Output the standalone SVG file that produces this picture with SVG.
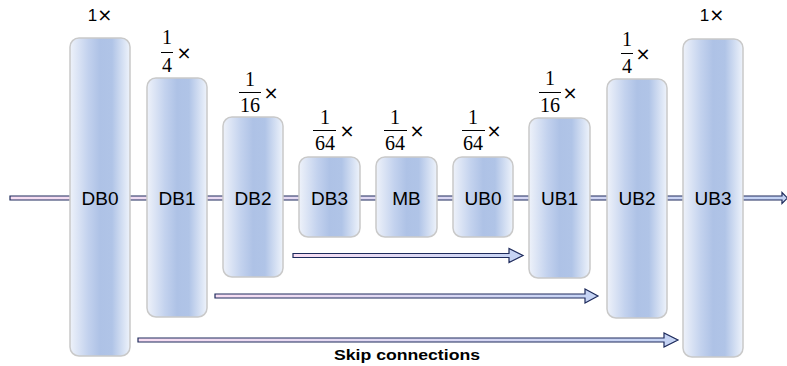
<svg xmlns="http://www.w3.org/2000/svg" width="787" height="366" viewBox="0 0 787 366">
<defs>
<linearGradient id="boxg" x1="0" y1="0" x2="1" y2="0">
<stop offset="0" stop-color="#eef2fa"/>
<stop offset="0.3" stop-color="#c3d2ee"/>
<stop offset="0.5" stop-color="#aec2e6"/>
<stop offset="0.7" stop-color="#b0c4e7"/>
<stop offset="1" stop-color="#eef3fb"/>
</linearGradient>
<linearGradient id="arrg" x1="0" y1="0" x2="1" y2="0">
<stop offset="0" stop-color="#f8def2"/>
<stop offset="1" stop-color="#c4d3f4"/>
</linearGradient>
<style>
.box{fill:url(#boxg);stroke:#c9c9c9;stroke-width:1.5}
.arr{fill:url(#arrg);stroke:#1e2b5c;stroke-width:1.2;stroke-linejoin:miter}
.lbl{font-family:"Liberation Sans",Arial,sans-serif;font-size:19px;fill:#000;text-anchor:middle}
.sc{font-family:"Liberation Sans",Arial,sans-serif;font-size:17px;fill:#000;text-anchor:middle}
.fr{font-family:"Liberation Serif","DejaVu Serif",serif;font-size:20px;fill:#000;text-anchor:middle}
.x{font-family:"DejaVu Sans",sans-serif;font-size:18px;fill:#000;text-anchor:middle}
.xs{font-family:"DejaVu Sans",sans-serif;font-size:18px}
.bar{stroke:#000;stroke-width:1}
.cap{font-family:"Liberation Sans",Arial,sans-serif;font-size:15px;font-weight:bold;fill:#000;text-anchor:middle}
</style>
</defs>
<g id="connectors">
<path class="arr" d="M10,196 H782 V192.5 L787.5,198 L782,203.5 V200 H10 Z"/>
<path class="arr" d="M293,253.5 H509 V248.5 L523,255.5 L509,262.5 V257.5 H293 Z"/>
<path class="arr" d="M215,294 H585 V289 L598,296 L585,303 V298 H215 Z"/>
<path class="arr" d="M138,338 H664 V333 L678,340 L664,347 V342 H138 Z"/>
</g>
<g id="DB0"><rect class="box" x="70" y="38" width="60" height="318" rx="9"/><text class="lbl" x="100" y="205">DB0</text><text class="sc" x="100" y="21">1<tspan class="xs">×</tspan></text></g>
<g id="DB1"><rect class="box" x="147" y="78" width="60" height="239" rx="9"/><text class="lbl" x="177" y="205">DB1</text>
<text class="fr" x="167" y="44">1</text><line class="bar" x1="161" y1="52.5" x2="173" y2="52.5"/><text class="fr" x="167" y="72">4</text><text class="x" x="184" y="59">×</text></g>
<g id="DB2"><rect class="box" x="223" y="117" width="60" height="160" rx="9"/><text class="lbl" x="253" y="205">DB2</text>
<text class="fr" x="250" y="86">1</text><line class="bar" x1="239" y1="92.5" x2="261" y2="92.5"/><text class="fr" x="250" y="112">16</text><text class="x" x="271" y="99">×</text></g>
<g id="DB3"><rect class="box" x="299" y="157" width="61" height="80" rx="9"/><text class="lbl" x="329.5" y="205">DB3</text>
<text class="fr" x="325" y="124">1</text><line class="bar" x1="313" y1="130.5" x2="336" y2="130.5"/><text class="fr" x="325" y="150">64</text><text class="x" x="347" y="137">×</text></g>
<g id="MB"><rect class="box" x="376" y="157" width="61" height="80" rx="9"/><text class="lbl" x="406.5" y="205">MB</text>
<text class="fr" x="395" y="124">1</text><line class="bar" x1="384" y1="130.5" x2="407" y2="130.5"/><text class="fr" x="395" y="150">64</text><text class="x" x="417" y="137">×</text></g>
<g id="UB0"><rect class="box" x="453" y="157" width="60" height="80" rx="9"/><text class="lbl" x="483" y="205">UB0</text>
<text class="fr" x="473" y="124">1</text><line class="bar" x1="462" y1="130.5" x2="485" y2="130.5"/><text class="fr" x="473" y="150">64</text><text class="x" x="494" y="137">×</text></g>
<g id="UB1"><rect class="box" x="529" y="118" width="61" height="160" rx="9"/><text class="lbl" x="559.5" y="205">UB1</text>
<text class="fr" x="550" y="85">1</text><line class="bar" x1="539" y1="92.5" x2="561" y2="92.5"/><text class="fr" x="550" y="112">16</text><text class="x" x="570" y="99">×</text></g>
<g id="UB2"><rect class="box" x="607" y="79" width="60" height="239" rx="9"/><text class="lbl" x="637" y="205">UB2</text>
<text class="fr" x="627" y="46">1</text><line class="bar" x1="621" y1="53.5" x2="633" y2="53.5"/><text class="fr" x="627" y="73">4</text><text class="x" x="643" y="60">×</text></g>
<g id="UB3"><rect class="box" x="683" y="39" width="60" height="318" rx="9"/><text class="lbl" x="713" y="205">UB3</text><text class="sc" x="712" y="21">1<tspan class="xs">×</tspan></text></g>
<text class="cap" x="407" y="360" textLength="146" lengthAdjust="spacingAndGlyphs">Skip connections</text>
</svg>
